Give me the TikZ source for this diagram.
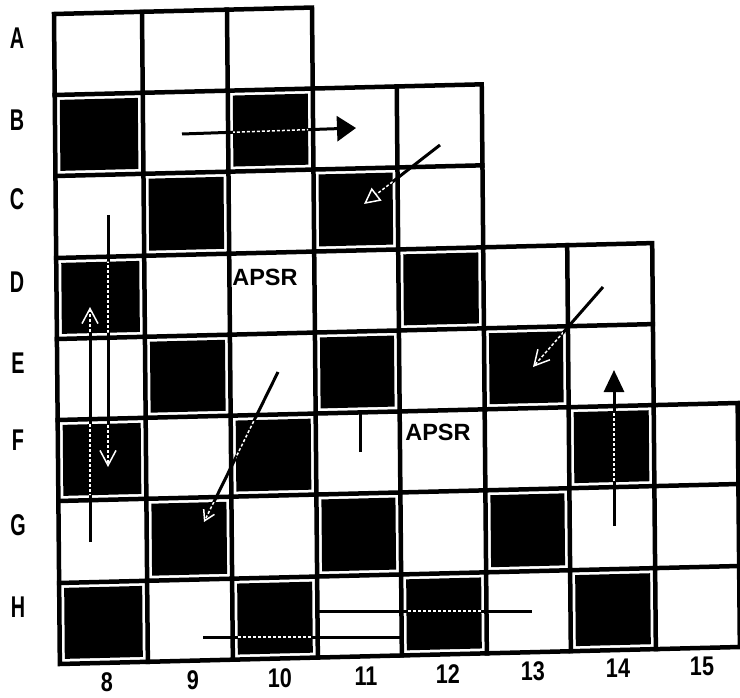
\documentclass[tikz,border=0pt]{standalone}
\usepackage{fontspec}
\setmainfont{Liberation Sans}
\usetikzlibrary{arrows.meta}
\newcommand\rowtxt[1]{\scalebox{0.66}[1]{#1}}
\newcommand\coltxt[1]{\scalebox{0.8}[1]{#1}}
\begin{document}
\begin{tikzpicture}[x=1pt,y=-1pt,
  gf/.style={cm={1,0.025,-0.009,1,(54,14)}},
  gridline/.style={line width=4.5pt,line cap=rect,line join=miter},
  darkcell/.style={fill=black},
  rowlab/.style={font=\fontsize{30}{30}\selectfont\bfseries,inner sep=0pt},
  collab/.style={font=\fontsize{27}{27}\selectfont\bfseries,inner sep=0pt},
  apsr/.style={font=\fontsize{23.5}{24}\selectfont\bfseries,inner sep=0pt},
  blk/.style={line width=3pt,black},
  wht/.style={line width=1.5pt,white,dash pattern=on 3pt off 2pt}
]
\fill[white] (0,0) rectangle (740,698);
\useasboundingbox (0,0) rectangle (740,698);

% dark cells
\fill[gf,darkcell]
  (5,86) rectangle (83,157) (178,86) rectangle (253,157)
  (93,167) rectangle (168,239) (263,167) rectangle (337,239)
  (5,249) rectangle (83,320) (347,249) rectangle (422,320)
  (93,330) rectangle (168,401) (263,330) rectangle (337,401) (432,330) rectangle (506,401)
  (5,411) rectangle (83,482) (178,411) rectangle (253,482) (516,411) rectangle (591,482)
  (93,492) rectangle (168,564) (263,492) rectangle (337,564) (432,492) rectangle (506,564)
  (5,574) rectangle (83,645) (178,574) rectangle (253,645) (347,574) rectangle (422,645) (516,574) rectangle (591,645);

% grid
\draw[gf,gridline] (0,0) -- (258,0) -- (258,81) -- (427,81) -- (427,244) -- (596,244)
  -- (596,406) -- (680,406) -- (680,650) -- (0,650) -- cycle;
\draw[gf,gridline]
  (0,81) -- (258,81)
  (0,162) -- (427,162)
  (0,244) -- (427,244)
  (0,325) -- (596,325)
  (0,406) -- (596,406)
  (0,487) -- (680,487)
  (0,569) -- (680,569)
  (88,0) -- (88,650)
  (173,0) -- (173,650)
  (258,81) -- (258,650)
  (342,81) -- (342,650)
  (427,244) -- (427,650)
  (511,244) -- (511,650)
  (596,406) -- (596,650);

% labels
\node[rowlab] (lA) at (17,38) {\rowtxt{A}};
\node[rowlab] (lB) at (17,120) {\rowtxt{B}};
\node[rowlab] (lC) at (17,199) {\rowtxt{C}};
\node[rowlab] (lD) at (17,282) {\rowtxt{D}};
\node[rowlab] (lE) at (18,363) {\rowtxt{E}};
\node[rowlab] (lF) at (18,440) {\rowtxt{F}};
\node[rowlab] (lG) at (18,525) {\rowtxt{G}};
\node[rowlab] (lH) at (18,607) {\rowtxt{H}};

\node[collab] (n8) at (107,682) {\coltxt{8}};
\node[collab] (n9) at (193,680) {\coltxt{9}};
\node[collab] (n10) at (280,678) {\coltxt{10}};
\node[collab] (n11) at (366,676) {\coltxt{11}};
\node[collab] (n12) at (448,674) {\coltxt{12}};
\node[collab] (n13) at (533,671) {\coltxt{13}};
\node[collab] (n14) at (618,668) {\coltxt{14}};
\node[collab] (n15) at (702,666) {\coltxt{15}};

\node[apsr] (ap1) at (265,277) {APSR};
\node[apsr] (ap2) at (438,432) {APSR};

% arrow end points
\coordinate (bS) at (182,134); \coordinate (bE) at (356,128);
\coordinate (cS) at (440,145); \coordinate (cE) at (364,204);
\coordinate (dS) at (108,215); \coordinate (dE) at (108,467);
\coordinate (uS) at (90,542);  \coordinate (uE) at (90,307);
\coordinate (gS) at (278,372); \coordinate (gE) at (204,522);
\coordinate (fS) at (360,452); \coordinate (fE) at (360,414);
\coordinate (eS) at (603,287); \coordinate (eE) at (533,367);
\coordinate (kS) at (614,526); \coordinate (kE) at (614,370);
\coordinate (hS) at (318,611); \coordinate (hE) at (532,611);
\coordinate (lS) at (203,637); \coordinate (lE) at (402,637);

% black pass
\draw[blk,-{Triangle[length=19pt,width=25pt]}] (bS) -- (bE);
\draw[blk,-{Triangle[open,length=16pt,width=16pt]}] (cS) -- (cE);
\draw[blk,-{Straight Barb[length=15pt,width=16pt]}] (dS) -- (dE);
\draw[blk,-{Straight Barb[length=15pt,width=16pt]}] (uS) -- (uE);
\draw[blk,-{Straight Barb[length=10pt,width=12pt]}] (gS) -- (gE);
\draw[blk] (fS) -- (fE);
\draw[blk,-{Straight Barb[length=15pt,width=16pt]}] (eS) -- (eE);
\draw[blk,-{Triangle[length=22pt,width=20pt]}] (kS) -- (kE);
\draw[blk] (hS) -- (hE);
\draw[blk] (lS) -- (lE);

% white pass inside dark cells
\begin{scope}
\clip[gf]
  (5,86) rectangle (83,157) (178,86) rectangle (253,157)
  (93,167) rectangle (168,239) (263,167) rectangle (337,239)
  (5,249) rectangle (83,320) (347,249) rectangle (422,320)
  (93,330) rectangle (168,401) (263,330) rectangle (337,401) (432,330) rectangle (506,401)
  (5,411) rectangle (83,482) (178,411) rectangle (253,482) (516,411) rectangle (591,482)
  (93,492) rectangle (168,564) (263,492) rectangle (337,564) (432,492) rectangle (506,564)
  (5,574) rectangle (83,645) (178,574) rectangle (253,645) (347,574) rectangle (422,645) (516,574) rectangle (591,645);
\draw[wht,-{Triangle[length=19pt,width=25pt]}] (bS) -- (bE);
\draw[wht,-{Triangle[open,length=16pt,width=16pt]}] (cS) -- (cE);
\draw[wht,-{Straight Barb[length=15pt,width=16pt]}] (dS) -- (dE);
\draw[wht,-{Straight Barb[length=15pt,width=16pt]}] (uS) -- (uE);
\draw[wht,-{Straight Barb[length=10pt,width=12pt]}] (gS) -- (gE);
\draw[wht,-{Straight Barb[length=15pt,width=16pt]}] (eS) -- (eE);
\draw[wht,-{Triangle[length=22pt,width=20pt]}] (kS) -- (kE);
\draw[wht] (hS) -- (hE);
\draw[wht] (lS) -- (lE);
\end{scope}
\end{tikzpicture}
\end{document}
